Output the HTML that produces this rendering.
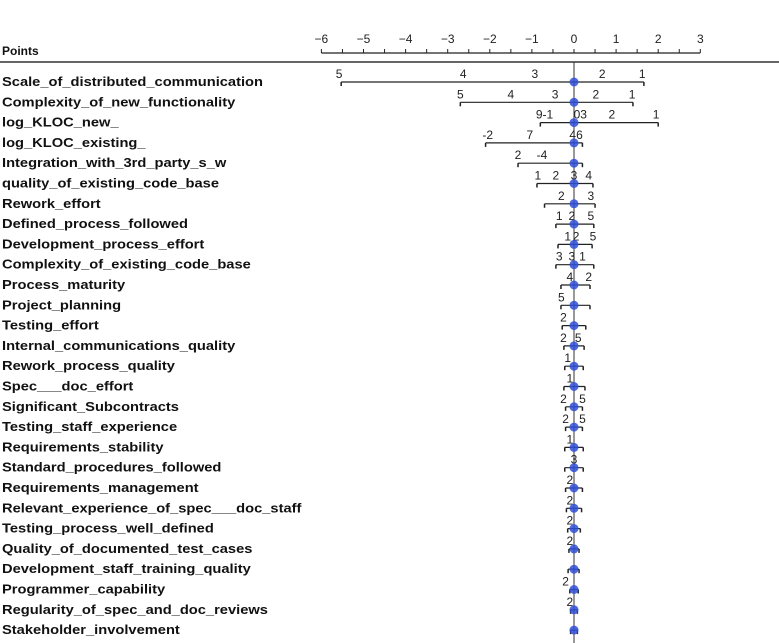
<!DOCTYPE html>
<html><head><meta charset="utf-8"><style>
body{margin:0;background:#fff;width:779px;height:643px;overflow:hidden}
svg{display:block;font-family:"Liberation Sans",sans-serif}
.lbl{font-weight:bold;font-size:13px;fill:#111}
.tk{font-size:12px;fill:#222}
</style></head><body>
<svg id="c" width="779" height="643"></svg>
<script>
const rowNames=["Scale_of_distributed_communication","Complexity_of_new_functionality","log_KLOC_new_","log_KLOC_existing_","Integration_with_3rd_party_s_w","quality_of_existing_code_base","Rework_effort","Defined_process_followed","Development_process_effort","Complexity_of_existing_code_base","Process_maturity","Project_planning","Testing_effort","Internal_communications_quality","Rework_process_quality","Spec___doc_effort","Significant_Subcontracts","Testing_staff_experience","Requirements_stability","Standard_procedures_followed","Requirements_management","Relevant_experience_of_spec___doc_staff","Testing_process_well_defined","Quality_of_documented_test_cases","Development_staff_training_quality","Programmer_capability","Regularity_of_spec_and_doc_reviews","Stakeholder_involvement"];
const minPts=[-5.53,-2.7,-0.8,-2.1,-1.33,-0.88,-0.7,-0.43,-0.38,-0.43,-0.31,-0.31,-0.28,-0.24,-0.22,-0.24,-0.2,-0.2,-0.22,-0.22,-0.2,-0.18,-0.15,-0.12,-0.14,-0.1,-0.08,-0.08];
const maxPts=[1.66,1.4,2.0,0.2,0.2,0.45,0.5,0.47,0.43,0.47,0.38,0.38,0.28,0.24,0.22,0.26,0.2,0.2,0.22,0.22,0.2,0.18,0.15,0.12,0.12,0.1,0.08,0.08];
const axisTicks=[-6,-5,-4,-3,-2,-1,0,1,2,3];
const rowLabels=[
 [["5",-5.58],["4",-2.63],["3",-0.93],["2",0.67],["1",1.62]],
 [["5",-2.7],["4",-1.5],["3",-0.45],["2",0.52],["1",1.38]],
 [["9-1",-0.7],["03",0.15],["2",0.9],["1",1.95]],
 [["-2",-2.05],["7",-1.05],["46",0.05]],
 [["2",-1.33],["-4",-0.76]],
 [["1",-0.86],["2",-0.43],["3",0],["4",0.35]],
 [["2",-0.3],["3",0.4]],
 [["1",-0.35],["2",-0.05],["5",0.4]],
 [["1",-0.15],["2",0.05],["5",0.45]],
 [["3",-0.35],["3",-0.05],["1",0.2]],
 [["4",-0.1],["2",0.35]],
 [["5",-0.3]],[["2",-0.25]],[["2",-0.25],["5",0.1]],[["1",-0.15]],[["1",-0.1]],[["2",-0.25],["5",0.2]],[["2",-0.2],["5",0.2]],[["1",-0.1]],[["3",0.0]],[["2",-0.1]],[["2",-0.1]],[["2",-0.1]],[["2",-0.1]],[["",0]],[["2",-0.2]],[["2",-0.1]],[["",0]]];
const X0=574,U=42.1,Y0=82,DY=20.3;
const x=v=>X0+v*U, y=i=>Y0+i*DY;
const S="http://www.w3.org/2000/svg",svg=document.getElementById('c');
function mk(t,a,p){const e=document.createElementNS(S,t);for(const k in a)e.setAttribute(k,a[k]);(p||svg).appendChild(e);return e;}
let t=mk('text',{x:2,y:55,class:'lbl',style:'font-size:12px'});t.textContent='Points';


const ax=mk('g',{});


mk('line',{x1:x(-6),x2:x(3),y1:53,y2:53,stroke:'#222','stroke-width':1.2},ax);
for(let v=-6;v<=3;v+=0.5){mk('line',{x1:x(v),x2:x(v),y1:49,y2:53,stroke:'#222'},ax);}
axisTicks.forEach(v=>{const e=mk('text',{x:x(v),y:43,'text-anchor':'middle',class:'tk'},ax);e.textContent=v<0?'−'+(-v):v;});
const sep=mk('line',{x1:0,x2:779,y1:62,y2:62,stroke:'#333','stroke-width':1.5});


const zl=mk('line',{x1:X0,x2:X0,y1:62,y2:643,stroke:'#333','stroke-width':1});


rowNames.forEach((n,i)=>{
 const g=mk('g',{});
 
 
 const l=mk('text',{x:2,y:y(i)+4,class:'lbl',transform:'translate(2,0) scale(1.13,1) translate(-2,0)'},g);l.textContent=n;
 const ly=y(i);
 mk('line',{x1:x(minPts[i]),x2:x(maxPts[i]),y1:ly,y2:ly,stroke:'#222','stroke-width':1.2},g);
 [minPts[i],maxPts[i]].forEach(v=>mk('line',{x1:x(v),x2:x(v),y1:ly,y2:ly+4,stroke:'#222','stroke-width':1.5},g));
 rowLabels[i].forEach(([s,v])=>{const e=mk('text',{x:x(v),y:ly-4,'text-anchor':'middle',class:'tk'},g);e.textContent=s;});
 const d=mk('circle',{cx:X0,cy:ly,r:4.5,fill:'#2f4fd8','fill-opacity':0.85},g);
 
 
});
</script>
</body></html>
